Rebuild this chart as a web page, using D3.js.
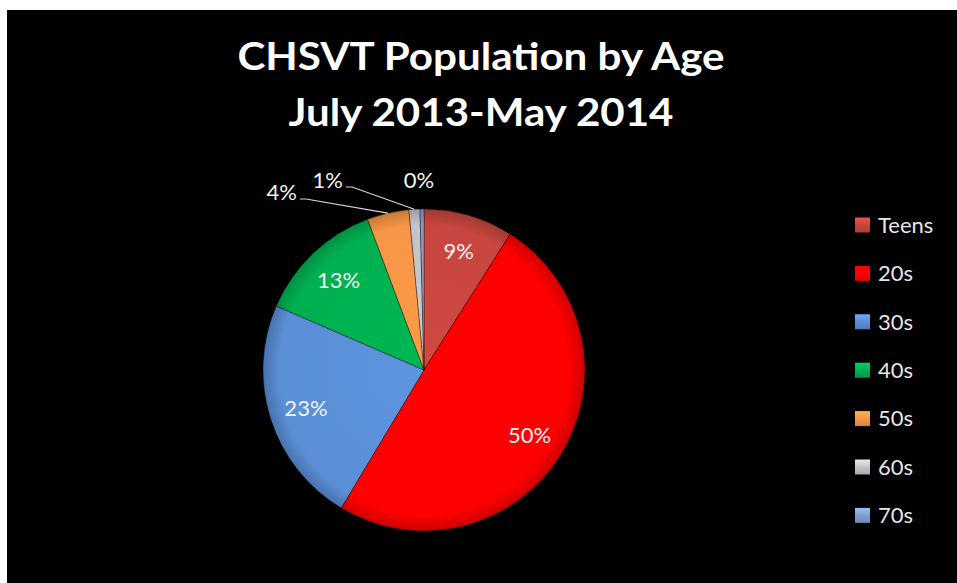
<!DOCTYPE html>
<html>
<head>
<meta charset="utf-8">
<script src="https://cdn.jsdelivr.net/npm/d3@7"></script>
<style>
	html, body { margin: 0; padding: 0; background: #ffffff; }
	svg { display: block; }
</style>
</head>
<body>
<svg id="svg_main" width="957" height="583"></svg>
<script>
var ages = ["Teens", "20s", "30s", "40s", "50s", "60s", "70s"],
	shares = [9.0, 49.6, 22.9, 12.8, 4.2, 1.1, 0.4],
	colors = ["#c8463f", "#ff0000", "#5a8fd6", "#00b050", "#f79646", "#c4c4c8", "#7f9fd0"],
	titleLines = ["CHSVT Population by Age", "July 2013-May 2014"];

var svg = d3.select("#svg_main"),
	font = "Lato, 'Open Sans', sans-serif";

svg.append("rect")
	.attr("x", 7)
	.attr("y", 10)
	.attr("width", 950)
	.attr("height", 573)
	.attr("fill", "#000000");

// title
var title = svg.append("g").attr("class", "title");
var titleWidths = [487, 385];
titleLines.forEach((t, i) => {
	let txt = title.append("text")
		.attr("x", 481)
		.attr("y", 70 + i * 56)
		.attr("text-anchor", "middle")
		.attr("font-family", font)
		.attr("font-weight", "bold")
		.attr("font-size", "38px")
		.attr("fill", "#ffffff")
		.text(t);
	let w = txt.node().getComputedTextLength();
	if (Math.abs(w - titleWidths[i]) > 3)
		txt.attr("textLength", titleWidths[i]).attr("lengthAdjust", "spacingAndGlyphs");
});

// pie
var cx = 424, cy = 370, radius = 161;
var data = ages.map((a, i) => ({ age: a, value: shares[i], color: colors[i] }));
var total = d3.sum(shares);

var pie = d3.pie().sort(null).value(d => d.value).startAngle(0).endAngle(2 * Math.PI),
	arc = d3.arc().innerRadius(0).outerRadius(radius),
	labelArc = d3.arc().innerRadius(124).outerRadius(124);

var defs = svg.append("defs");
data.forEach((d, i) => {
	let g = defs.append("radialGradient")
		.attr("id", `slice${i}`)
		.attr("gradientUnits", "userSpaceOnUse")
		.attr("cx", 0).attr("cy", 0).attr("r", radius);
	g.append("stop").attr("offset", "0%").attr("stop-color", d3.color(d.color).brighter(0.1));
	g.append("stop").attr("offset", "90%").attr("stop-color", d.color);
	g.append("stop").attr("offset", "100%").attr("stop-color", d3.color(d.color).darker(0.6));

	let l = defs.append("linearGradient")
		.attr("id", `key${i}`)
		.attr("x1", 0).attr("y1", 0).attr("x2", 0).attr("y2", 1);
	l.append("stop").attr("offset", "0%").attr("stop-color", d3.color(d.color).brighter(0.5));
	l.append("stop").attr("offset", "50%").attr("stop-color", d.color);
	l.append("stop").attr("offset", "100%").attr("stop-color", d3.color(d.color).darker(0.4));
});

var chart = svg.append("g")
	.attr("transform", `translate(${cx}, ${cy})`);

var arcs = pie(data);

chart.selectAll(".slice")
	.data(arcs)
	.enter().append("path")
	.attr("class", "slice")
	.attr("d", arc)
	.attr("fill", (d, i) => `url(#slice${i})`)
	.attr("stroke", "#000000")
	.attr("stroke-opacity", 0.35)
	.attr("stroke-width", 1);

var pct = d => `${Math.round(d.data.value / total * 100)}%`;

// inside labels
chart.selectAll(".inlabel")
	.data(arcs.filter(d => d.data.value >= 5))
	.enter().append("text")
	.attr("class", "inlabel")
	.attr("transform", d => `translate(${labelArc.centroid(d)})`)
	.attr("dy", "0.35em")
	.attr("text-anchor", "middle")
	.attr("font-family", font)
	.attr("font-size", "22px")
	.attr("fill", "#f4f4f4")
	.text(pct);

// outside labels with leader lines (Excel best fit placement)
var outside = { "50s": { x: -127, y: -170, anchor: "end", line: true },
	"60s": { x: -81, y: -182, anchor: "end", line: true },
	"70s": { x: -5, y: -182, anchor: "middle", line: false } };

arcs.filter(d => d.data.value < 5).forEach(d => {
	let o = outside[d.data.age];
	chart.append("text")
		.attr("x", o.x)
		.attr("y", o.y)
		.attr("text-anchor", o.anchor)
		.attr("font-family", font)
		.attr("font-size", "22px")
		.attr("fill", "#f4f4f4")
		.text(pct(d));
	if (o.line) {
		let mid = (d.startAngle + d.endAngle) / 2,
			ex = Math.sin(mid) * radius,
			ey = -Math.cos(mid) * radius;
		chart.append("polyline")
			.attr("points", `${o.x + 3},${o.y - 1} ${o.x + 9},${o.y - 1} ${ex},${ey}`)
			.attr("fill", "none")
			.attr("stroke", "#d8d8d8")
			.attr("stroke-width", 1.2);
	}
});

// legend
var legend = svg.append("g")
	.attr("class", "legend")
	.attr("transform", "translate(855, 225)");

var rows = legend.selectAll(".row")
	.data(data)
	.enter().append("g")
	.attr("class", "row")
	.attr("transform", (d, i) => `translate(0, ${i * 48.4})`);

rows.append("rect")
	.attr("x", 0)
	.attr("y", -7.5)
	.attr("width", 15)
	.attr("height", 15)
	.attr("fill", (d, i) => `url(#key${i})`);

rows.append("text")
	.attr("x", 23)
	.attr("y", 0)
	.attr("dy", "0.35em")
	.attr("font-family", font)
	.attr("font-size", "22px")
	.attr("fill", "#e6e6e6")
	.text(d => d.age);
</script>
</body>
</html>
